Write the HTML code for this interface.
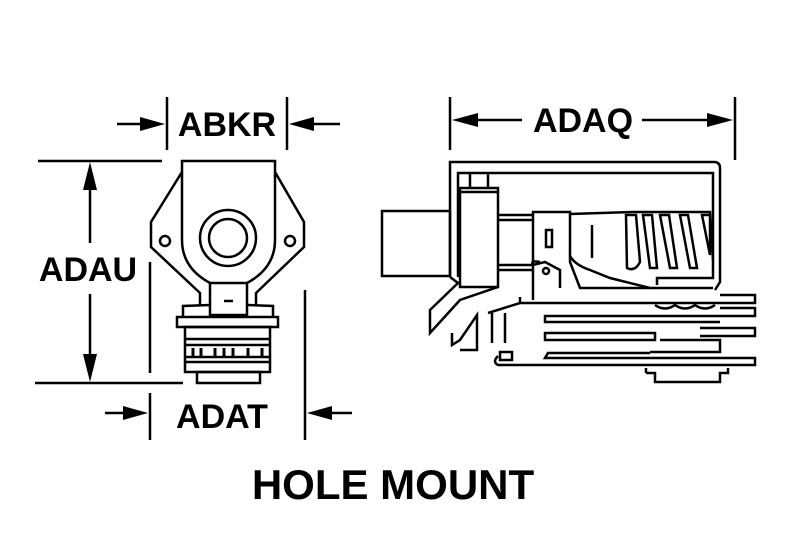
<!DOCTYPE html>
<html><head><style>
html,body{margin:0;padding:0;background:#fff;}
svg{display:block;}
text{font-family:"Liberation Sans",sans-serif;font-weight:bold;fill:#000;}
</style></head><body>
<svg width="796" height="552" viewBox="0 0 796 552" xmlns="http://www.w3.org/2000/svg">
<g stroke="#000" stroke-width="2.5" fill="none" stroke-linejoin="miter">
<line x1="167" y1="97" x2="167" y2="150"/>
<line x1="287" y1="97" x2="287" y2="150"/>
<line x1="117" y1="124" x2="148" y2="124"/>
<line x1="306" y1="124" x2="340" y2="124"/>
<line x1="38" y1="161" x2="162" y2="161"/>
<line x1="35" y1="383" x2="183" y2="383"/>
<line x1="90" y1="180" x2="90" y2="243"/>
<line x1="90" y1="294" x2="90" y2="365"/>
<line x1="150" y1="262" x2="150" y2="373"/>
<line x1="150" y1="393" x2="150" y2="440"/>
<line x1="305" y1="290" x2="305" y2="440"/>
<line x1="105" y1="413" x2="130" y2="413"/>
<line x1="325" y1="413" x2="352" y2="413"/>
<line x1="450" y1="97" x2="450" y2="150"/>
<line x1="735" y1="97" x2="735" y2="160"/>
<line x1="470" y1="120" x2="522" y2="120"/>
<line x1="642" y1="120" x2="715" y2="120"/>

<!-- left view -->
<polyline points="182,172 151,222 151,247 200,293 200,305"/>
<polyline points="275,172 304,222 304,247 256,293 256,305"/>
<path d="M210,283 Q182,268 182,240 L182,161 L275,161 L275,240 Q275,268 247,283"/>
<circle cx="165" cy="241" r="5"/>
<circle cx="290" cy="241" r="5"/>
<circle cx="228" cy="238" r="28"/>
<circle cx="228" cy="238" r="19"/>
<rect x="210" y="283" width="37" height="32"/>
<line x1="224" y1="301" x2="233" y2="301"/>
<polyline points="183,317 183,306 210,305"/>
<polyline points="273,317 273,306 247,305"/>
<rect x="177" y="317" width="101" height="10"/>
<rect x="185" y="327" width="85" height="45"/>
<line x1="185" y1="339" x2="270" y2="339"/>
<line x1="185" y1="345" x2="270" y2="345"/>
<line x1="185" y1="357" x2="270" y2="357"/>
<line x1="185" y1="362" x2="270" y2="362"/>
<g stroke-width="3"><line x1="193" y1="348" x2="193" y2="356"/><line x1="201" y1="348" x2="201" y2="356"/><line x1="215" y1="348" x2="215" y2="356"/><line x1="224" y1="348" x2="224" y2="356"/><line x1="233" y1="348" x2="233" y2="356"/><line x1="248" y1="348" x2="248" y2="356"/><line x1="262" y1="348" x2="262" y2="356"/></g>
<rect x="197" y="372" width="63" height="11"/>

<!-- right view -->
<path d="M450,277 L450,162 L714,162 Q720,162 720,168 L720,282 L715,290"/>
<polyline points="458,277 458,173 713,173 713,278 657,278 657,285"/>
<rect x="382" y="211" width="68" height="65"/>
<rect x="460" y="188" width="38" height="99"/>
<line x1="470" y1="173" x2="470" y2="188"/>
<line x1="488" y1="173" x2="488" y2="188"/>
<line x1="460" y1="192" x2="498" y2="192"/>
<line x1="498" y1="215" x2="533" y2="215"/>
<line x1="498" y1="220" x2="533" y2="220"/>
<line x1="498" y1="265" x2="533" y2="265"/>
<line x1="498" y1="270" x2="533" y2="270"/>
<polyline points="450,277 458,283 430,310 430,333 460,300 498,287"/>
<polyline points="452,333 452,345 460,340 477,315 477,350 460,350"/>
<path d="M533,300 L533,212 L570,212 L570,262 L580,288 L713,288"/>
<path d="M570,214 L632,212 L710,212 L713,260"/>
<path d="M570,256 Q575,265 590,270 L610,278 L650,288"/>
<line x1="592" y1="225" x2="592" y2="258"/>
<path d="M546,230 h6 v17 h-6 z"/>
<circle cx="546" cy="271" r="3"/>
<path d="M540,262 Q530,260 533,265 L545,262 L560,270 L560,288"/>
<path d="M626,215 L627,268 Q635,272 640,262 L636,215 Z"/>
<path d="M643,215 L650,268 L657,268 L652,215 Z"/>
<path d="M660,215 L670,268 L677,268 L669,215 Z"/>
<path d="M680,215 L690,268 L697,268 L688,215 Z"/>
<path d="M702,215 L710,255 L710,215 Z"/>
<line x1="520" y1="297" x2="520" y2="303"/>
<polyline points="488,313 520,303 720,303"/>
<path d="M720,295 L755,295 L755,303 L720,303"/>
<path d="M655,305 Q665,312 675,305 Q685,312 695,305 Q705,312 715,305"/>
<path d="M720,308 L755,308 L755,316 L545,316 L545,322 L720,322"/>
<line x1="492" y1="313" x2="492" y2="343"/>
<line x1="505" y1="313" x2="505" y2="343"/>
<path d="M545,333 L655,333 L655,340 L545,340 Z"/>
<path d="M700,328 L755,328 L755,336 L700,336"/>
<path d="M660,340 L720,340 L720,352 L650,352"/>
<path d="M498,356 Q492,362 498,365 L755,365 L755,358 L545,358 L548,353 L650,353"/>
<rect x="500" y="352" width="12" height="8"/>
<path d="M646,373 L655,373 L655,382 L720,382 L720,373 L728,373 L728,368"/>
<line x1="646" y1="368" x2="646" y2="373"/>
</g>
<g fill="#000">
<polygon points="165,124 140,117 140,131"/>
<polygon points="289,124 314,117 314,131"/>
<polygon points="90,162 83,190 97,190"/>
<polygon points="90,382 83,354 97,354"/>
<polygon points="148,413 123,406 123,420"/>
<polygon points="307,413 332,406 332,420"/>
<polygon points="452,120 478,113 478,127"/>
<polygon points="733,120 707,113 707,127"/>
</g>
<text x="227" y="136" font-size="34" text-anchor="middle">ABKR</text>
<text x="88" y="281" font-size="34" text-anchor="middle">ADAU</text>
<text x="222" y="428" font-size="34" text-anchor="middle">ADAT</text>
<text x="583" y="132" font-size="34" text-anchor="middle">ADAQ</text>
<text x="393" y="499" font-size="42" text-anchor="middle">HOLE MOUNT</text>
</svg>
</body></html>
